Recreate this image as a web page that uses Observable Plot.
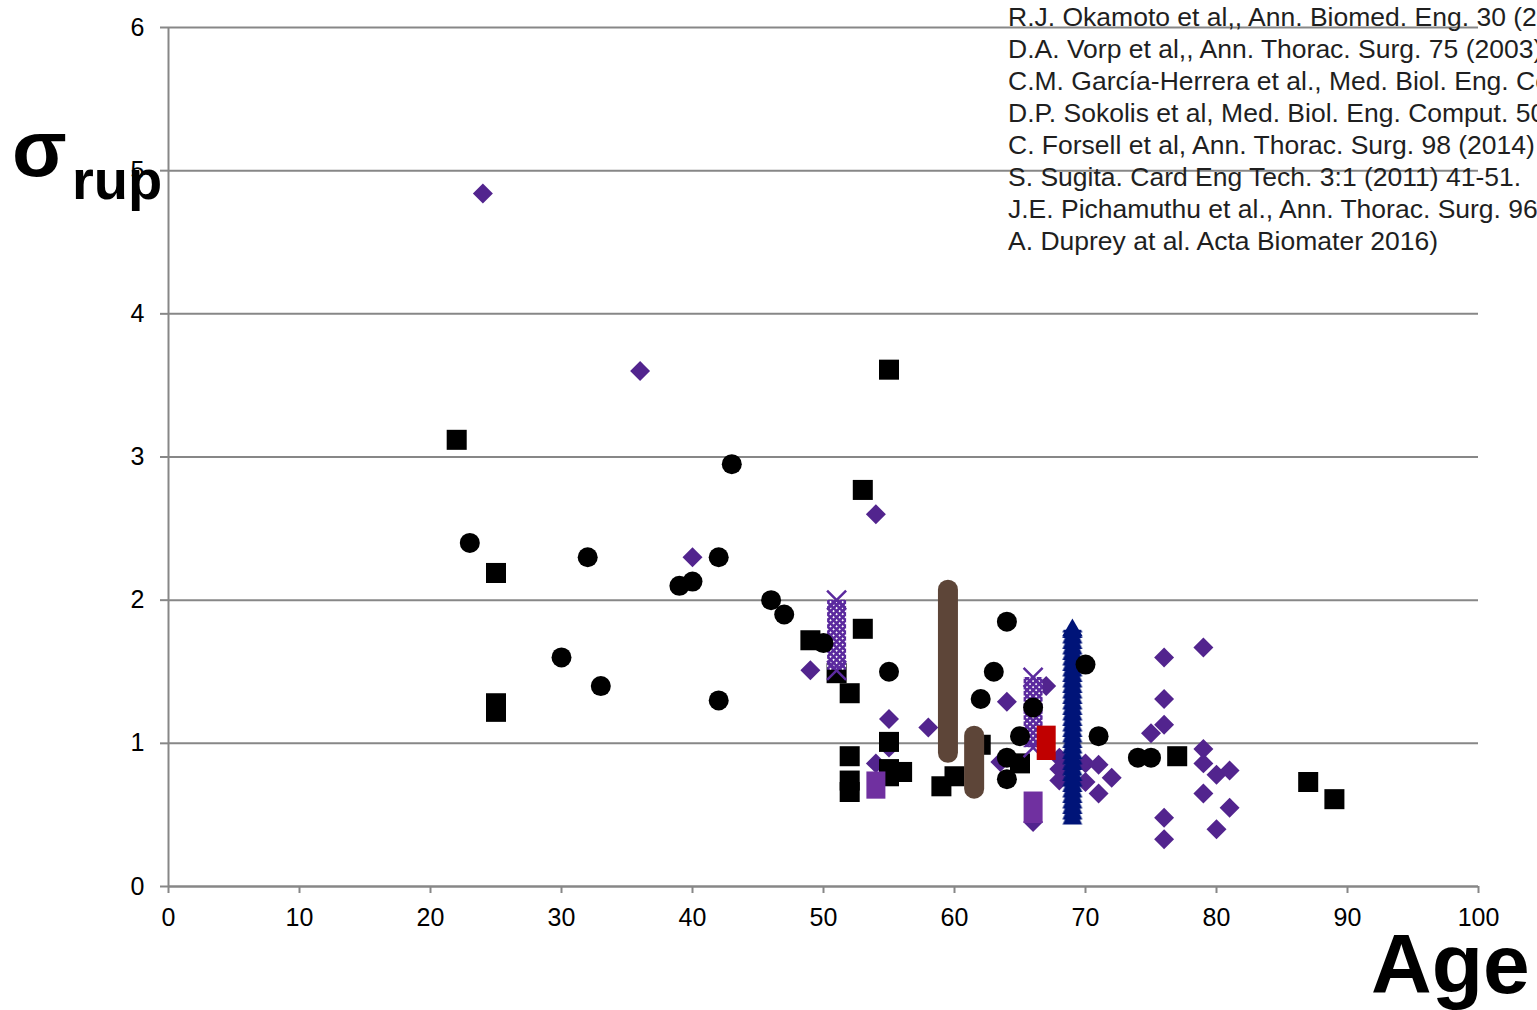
<!DOCTYPE html>
<html><head><meta charset="utf-8">
<script src="https://cdn.jsdelivr.net/npm/d3@7"></script>
<script src="https://cdn.jsdelivr.net/npm/@observablehq/plot@0.6"></script>
<style>
body{margin:0;background:#fff;}
#wrap{position:relative;width:1537px;height:1010px;overflow:hidden;}
</style></head><body><div id="wrap"></div>
<script>
// ---- data ----
const xTicks = [0,10,20,30,40,50,60,70,80,90,100];
const yTicks = [0,1,2,3,4,5,6];

const circleAge   = [23,30,32,33,39,40,42,42,43,46,47,50,55,62,63,64,64,64,65,66,70,71,74,75];
const circleSigma = [2.40,1.60,2.30,1.40,2.10,2.13,2.30,1.30,2.95,2.00,1.90,1.70,1.50,1.31,1.50,1.85,0.90,0.75,1.05,1.25,1.55,1.05,0.90,0.90];

const squareAge   = [22,25,25,25,49,51,52,52,52,52,53,53,55,55,55,55,56,59,60,62,65,77,87,89];
const squareSigma = [3.12,2.19,1.28,1.22,1.72,1.49,1.35,0.91,0.74,0.66,2.77,1.80,3.61,1.01,0.82,0.77,0.80,0.70,0.77,0.99,0.86,0.91,0.73,0.61];

const diamondAge   = [24,36,40,49,54,54,55,55,58,63.5,64,66,67,68,68,68,70,70,71,71,72,75,76,76,76,76,76,79,79,79,79,80,80,81,81];
const diamondSigma = [4.84,3.60,2.30,1.51,2.60,0.86,1.17,0.97,1.11,0.87,1.29,0.45,1.40,0.90,0.82,0.74,0.86,0.73,0.85,0.65,0.76,1.07,1.60,1.31,1.13,0.48,0.33,1.67,0.96,0.86,0.65,0.78,0.40,0.81,0.55];

// ranges drawn as stacked markers in the original
const crossAge = [51, 66],       crossLo = [1.51, 0.97], crossHi = [2.00, 1.46];
const brownAge = [59.5, 61.5],   brownLo = [0.93, 0.68], brownHi = [2.07, 1.05];
const redAge   = [67],           redLo   = [0.88],       redHi   = [1.12];
const navyAge  = [69],           navyLo  = [0.43],       navyHi  = [1.79];
const lilacAge = [54, 66],       lilacLo = [0.61, 0.44], lilacHi = [0.80, 0.66];

const refs = [
  "R.J. Okamoto et al,, Ann. Biomed. Eng. 30 (2002)",
  "D.A. Vorp et al,, Ann. Thorac. Surg. 75 (2003)",
  "C.M. García-Herrera et al., Med. Biol. Eng. Comput. 50 (2012)",
  "D.P. Sokolis et al, Med. Biol. Eng. Comput. 50 (2012)",
  "C. Forsell et al, Ann. Thorac. Surg. 98 (2014)",
  "S. Sugita. Card Eng Tech. 3:1 (2011) 41-51.",
  "J.E. Pichamuthu et al., Ann. Thorac. Surg. 96 (2013)",
  "A. Duprey at al. Acta Biomater 2016)"
];

// ---- build ----
const pts = (a, s) => a.map((v, i) => ({age: v, s: s[i]}));
const rng = (a, lo, hi) => a.map((v, i) => ({age: v, lo: lo[i], hi: hi[i]}));
const circles = pts(circleAge, circleSigma);
const squares = pts(squareAge, squareSigma);
const diamonds = pts(diamondAge, diamondSigma);
const crosses = rng(crossAge, crossLo, crossHi);
const crossEnds = crosses.flatMap(d => [{age: d.age, s: d.lo}, {age: d.age, s: d.hi}]);
const browns = rng(brownAge, brownLo, brownHi);
const reds = rng(redAge, redLo, redHi);
const navys = rng(navyAge, navyLo, navyHi);
const lilacs = rng(lilacAge, lilacLo, lilacHi);

const GRAY = "#878787", DIAM = "#52248E", XPUR = "#5B2A9E", BROWN = "#5D4538",
      NAVY = "#001478", LILAC = "#7030A0", RED = "#C00000";
const FONT = "'Liberation Sans', Arial, Helvetica, sans-serif";

const chart = Plot.plot({
  width: 1537, height: 1010,
  marginLeft: 168, marginRight: 59, marginTop: 27, marginBottom: 124,
  x: {domain: [0, 100]},
  y: {domain: [0, 6]},
  style: {fontFamily: FONT, fontSize: "25px", color: "#000", background: "#fff", overflow: "visible"},
  marks: [
    Plot.gridY(yTicks, {stroke: GRAY, strokeOpacity: 1, strokeWidth: 2}),
    Plot.ruleX([0], {stroke: GRAY, strokeWidth: 2}),
    Plot.ruleY([0], {stroke: GRAY, strokeWidth: 2}),
    Plot.axisY({ticks: yTicks, tickFormat: d3.format("d"), tickSize: 8, tickPadding: 16, label: null, stroke: GRAY, strokeWidth: 2, strokeOpacity: 1, fontSize: 25}),
    Plot.axisX({ticks: xTicks, tickFormat: d3.format("d"), tickSize: 7, tickPadding: 15, label: null, stroke: GRAY, strokeWidth: 2, strokeOpacity: 1, fontSize: 25}),
    Plot.dot(diamonds, {x: "age", y: "s", symbol: "diamond2", r: 9, fill: DIAM}),
    Plot.dot(squares, {x: "age", y: "s", symbol: "square", r: 11.3, fill: "#000"}),
    Plot.ruleX(browns, {x: "age", y1: "hi", y2: "lo", stroke: BROWN, strokeWidth: 20, strokeLinecap: "round"}),
    ...crosses.map((d, i) => Plot.ruleX([d], {x: "age", y1: "hi", y2: "lo", stroke: `url(#xh${i})`, strokeWidth: 19})),
    Plot.dot(crossEnds, {x: "age", y: "s", symbol: "times", r: 8.7, stroke: XPUR, strokeWidth: 2.5}),
    Plot.ruleX(reds, {x: "age", y1: "hi", y2: "lo", stroke: RED, strokeWidth: 19}),
    Plot.ruleX(navys, {x: "age", y1: "hi", y2: "lo", stroke: "url(#tri)", strokeWidth: 20}),
    Plot.dot(navys, {x: "age", y: "hi", symbol: "triangle", r: 7.6, fill: NAVY}),
    Plot.ruleX(lilacs, {x: "age", y1: "hi", y2: "lo", stroke: LILAC, strokeWidth: 19}),
    Plot.dot(circles, {x: "age", y: "s", r: 10, fill: "#000"})
  ]
});

// patterns aligned to the plotted positions
const sx = chart.scale("x");
const svg = d3.select(chart);
const defs = svg.insert("defs", ":first-child");
crosses.forEach((d, i) => {
  const cx = sx.apply(d.age);
  const p = defs.append("pattern").attr("id", `xh${i}`).attr("patternUnits", "userSpaceOnUse")
    .attr("width", 4.3).attr("height", 4.3)
    .attr("patternTransform", `translate(${cx},0) rotate(45)`);
  p.append("rect").attr("width", 4.3).attr("height", 4.3).attr("fill", "#fff");
  p.append("path").attr("d", "M0,2.15H4.3M2.15,0V4.3").attr("stroke", XPUR).attr("stroke-width", 2.6);
});
navys.forEach(d => {
  const cx = sx.apply(d.age);
  const p = defs.append("pattern").attr("id", "tri").attr("patternUnits", "userSpaceOnUse")
    .attr("x", cx - 10).attr("y", 0).attr("width", 20).attr("height", 5.5);
  p.append("polygon").attr("points", "2.5,0 17.5,0 20,5.5 0,5.5").attr("fill", NAVY);
});

// labels
const lab = svg.append("g").attr("font-family", FONT).attr("fill", "#000").attr("text-anchor", "start");
lab.append("text").attr("x", 12).attr("y", 176).attr("font-size", 80).attr("font-weight", "bold").text("σ");
lab.append("text").attr("x", 72).attr("y", 199).attr("font-size", 56).attr("font-weight", "bold").text("rup");
lab.append("text").attr("x", 1371).attr("y", 993).attr("font-size", 84).attr("font-weight", "bold").text("Age");
const rg = svg.append("g").attr("font-family", FONT).attr("font-size", 26.5).attr("fill", "#1f1f1f").attr("text-anchor", "start");
refs.forEach((t, i) => rg.append("text").attr("x", 1008).attr("y", 26 + 32 * i).text(t));

document.getElementById("wrap").appendChild(chart);
</script>
</body></html>
